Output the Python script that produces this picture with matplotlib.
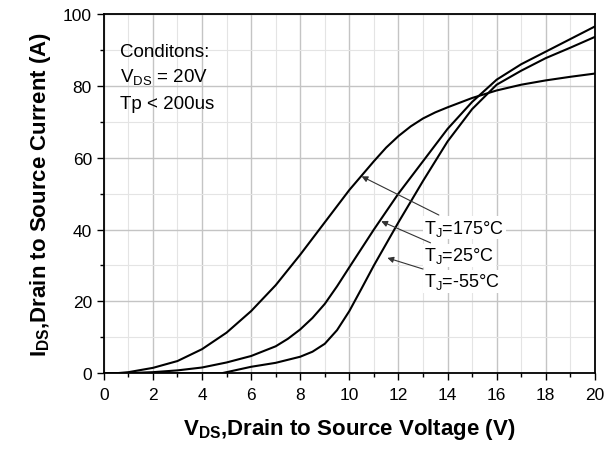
import matplotlib
matplotlib.use("Agg")
from matplotlib import pyplot as plt
from matplotlib.ticker import MultipleLocator

plt.rcParams['font.family'] = ['Liberation Sans', 'DejaVu Sans']
plt.rcParams['mathtext.fontset'] = 'custom'
plt.rcParams['mathtext.rm'] = 'Liberation Sans'
plt.rcParams['mathtext.bf'] = 'Liberation Sans:bold'

# curves (V, A)
v_175 = [0, 0.5, 1, 2, 3, 4, 5, 6, 7, 8, 9, 10, 11, 11.5, 12, 12.5, 13, 13.5, 14, 15, 16, 17, 18, 19, 20]
i_175 = [0, 0.0, 0.3, 1.5, 3.4, 6.7, 11.3, 17.3, 24.5, 33.0, 42.0, 51.0, 59.0, 62.8, 66.0, 68.7, 70.9, 72.6, 74.0, 76.6, 78.7, 80.3, 81.5, 82.5, 83.4]

v_25 = [0, 1, 2, 3, 4, 5, 6, 7, 7.5, 8, 8.5, 9, 9.5, 10, 11, 12, 13, 14, 15, 16, 17, 18, 19, 20]
i_25 = [0, 0.05, 0.3, 0.8, 1.6, 3.0, 4.8, 7.5, 9.6, 12.2, 15.4, 19.3, 24.2, 29.5, 40.0, 50.0, 59.0, 68.0, 75.5, 81.7, 86.0, 89.5, 93.0, 96.5]

v_m55 = [0, 4.8, 5, 6, 7, 8, 8.5, 9, 9.5, 10, 10.5, 11, 12, 13, 14, 15, 16, 17, 18, 19, 20]
i_m55 = [0, 0.0, 0.3, 1.8, 2.9, 4.6, 6.0, 8.2, 12.0, 17.3, 23.6, 30.0, 42.0, 53.5, 64.5, 73.5, 80.3, 84.2, 87.7, 90.6, 93.6]

labels = ['T$_\\mathrm{J}$=175°C', 'T$_\\mathrm{J}$=25°C', 'T$_\\mathrm{J}$=-55°C']
arrow_tips = [(10.5, 54.8), (11.3, 42.3), (11.55, 32.1)]
text_pos = [(13.05, 40.5), (13.05, 32.8), (13.05, 25.6)]

fig = plt.figure(figsize=(6.07, 4.52), dpi=100)
ax = fig.add_axes([0.171, 0.172, 0.809, 0.795])

ax.plot(v_175, i_175, color='black', lw=1.5)
ax.plot(v_25, i_25, color='black', lw=1.5)
ax.plot(v_m55, i_m55, color='black', lw=1.5)

for lab, tip, pos in zip(labels, arrow_tips, text_pos):
    ax.annotate(lab, xy=tip, xytext=pos, fontsize=13, va='center', ha='left',
                bbox=dict(facecolor='white', edgecolor='none', pad=1),
                arrowprops=dict(arrowstyle='-|>', color='#333333', lw=0.8,
                                mutation_scale=9, shrinkA=2, shrinkB=0))

ax.text(0.65, 89.5, 'Conditons:', fontsize=13.5, va='center')
ax.text(0.65, 82.5, 'V$_\\mathrm{DS}$ = 20V', fontsize=13.5, va='center')
ax.text(0.65, 75.0, 'Tp < 200us', fontsize=13.5, va='center')

ax.set_xlim(0, 20)
ax.set_ylim(0, 100)
ax.xaxis.set_major_locator(MultipleLocator(2))
ax.xaxis.set_minor_locator(MultipleLocator(1))
ax.yaxis.set_major_locator(MultipleLocator(20))
ax.yaxis.set_minor_locator(MultipleLocator(10))
ax.grid(which='major', color='#c4c4c4', lw=1.0)
ax.grid(which='minor', color='#e4e4e4', lw=0.8)
ax.set_axisbelow(True)
ax.tick_params(which='both', direction='out', top=False, right=False,
               labelsize=12.5, color='black')
ax.tick_params(which='major', length=5, width=1)
ax.tick_params(which='minor', length=3, width=1)
ax.tick_params(axis='x', pad=5)
for s in ax.spines.values():
    s.set_linewidth(1.3)

ax.set_xlabel('V$_\\mathbf{DS}$,Drain to Source Voltage (V)', fontsize=16, fontweight='bold', labelpad=10)
ax.set_ylabel('I$_\\mathbf{DS}$,Drain to Source Current (A)', fontsize=16, fontweight='bold', labelpad=7)

plt.savefig("out.png", dpi=100)
